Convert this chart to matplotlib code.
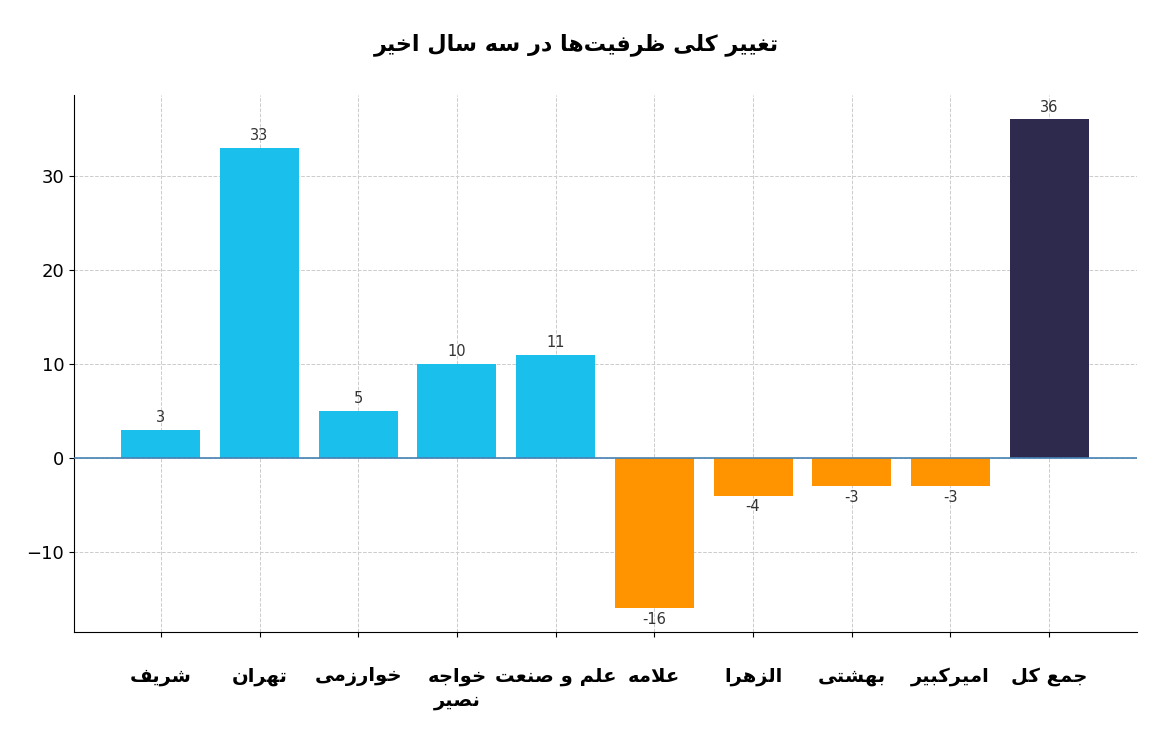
import matplotlib
matplotlib.use("Agg")
import matplotlib.pyplot as plt

categories = ["شریف", "تهران", "خوارزمی", "خواجه\nنصیر", "علم و صنعت", "علامه", "الزهرا", "بهشتی", "امیرکبیر", "جمع کل"]
values = [3, 33, 5, 10, 11, -16, -4, -3, -3, 36]
title = "تغییر کلی ظرفیت‌ها در سه سال اخیر"

# minimal Persian shaper (isol, final, init, medial)
FORMS = {
    'ا': ('\uFE8D', '\uFE8E', None, None), 'د': ('\uFEA9', '\uFEAA', None, None),
    'ر': ('\uFEAD', '\uFEAE', None, None), 'ز': ('\uFEAF', '\uFEB0', None, None),
    'و': ('\uFEED', '\uFEEE', None, None),
    'ب': ('\uFE8F', '\uFE90', '\uFE91', '\uFE92'), 'ت': ('\uFE95', '\uFE96', '\uFE97', '\uFE98'),
    'ج': ('\uFE9D', '\uFE9E', '\uFE9F', '\uFEA0'), 'ح': ('\uFEA1', '\uFEA2', '\uFEA3', '\uFEA4'),
    'خ': ('\uFEA5', '\uFEA6', '\uFEA7', '\uFEA8'), 'س': ('\uFEB1', '\uFEB2', '\uFEB3', '\uFEB4'),
    'ش': ('\uFEB5', '\uFEB6', '\uFEB7', '\uFEB8'), 'ص': ('\uFEB9', '\uFEBA', '\uFEBB', '\uFEBC'),
    'ظ': ('\uFEC5', '\uFEC6', '\uFEC7', '\uFEC8'), 'ع': ('\uFEC9', '\uFECA', '\uFECB', '\uFECC'),
    'غ': ('\uFECD', '\uFECE', '\uFECF', '\uFED0'), 'ف': ('\uFED1', '\uFED2', '\uFED3', '\uFED4'),
    'ک': ('\uFB8E', '\uFB8F', '\uFB90', '\uFB91'), 'ل': ('\uFEDD', '\uFEDE', '\uFEDF', '\uFEE0'),
    'م': ('\uFEE1', '\uFEE2', '\uFEE3', '\uFEE4'), 'ن': ('\uFEE5', '\uFEE6', '\uFEE7', '\uFEE8'),
    'ه': ('\uFEE9', '\uFEEA', '\uFEEB', '\uFEEC'), 'ی': ('\uFBFC', '\uFBFD', '\uFBFE', '\uFBFF'),
}

def shape(text):
    out_lines = []
    for line in text.split("\n"):
        chars = list(line)
        res = []
        i = 0
        n = len(chars)
        def joins_fwd(c):
            return c in FORMS and FORMS[c][2] is not None
        while i < n:
            c = chars[i]
            if c not in FORMS:
                if c != '\u200c':
                    res.append(c)
                i += 1
                continue
            prev = chars[i - 1] if i > 0 else None
            conn_prev = prev is not None and joins_fwd(prev)
            nxt = chars[i + 1] if i + 1 < n else None
            if c == 'ل' and nxt == 'ا':
                res.append('\uFEFC' if conn_prev else '\uFEFB')
                i += 2
                continue
            conn_next = nxt is not None and nxt in FORMS and joins_fwd(c)
            iso, fin, ini, med = FORMS[c]
            if conn_prev and conn_next:
                res.append(med)
            elif conn_prev:
                res.append(fin)
            elif conn_next:
                res.append(ini)
            else:
                res.append(iso)
            i += 1
        out_lines.append("".join(reversed(res)))
    return "\n".join(out_lines)

colors = []
for i, v in enumerate(values):
    if i == len(values) - 1:
        colors.append("#2E2A4E")
    elif v >= 0:
        colors.append("#1ABFEC")
    else:
        colors.append("#FF9300")

fig = plt.figure(figsize=(11.52, 7.5), dpi=100)
ax = fig.add_axes([74/1152, 1 - 632/750, (1137-74)/1152, (632-95)/750])
x = list(range(len(values)))
ax.bar(x, values, width=0.8, color=colors, zorder=2)
ax.axhline(0, color="#4682B4", linewidth=1.2, zorder=3)
ax.set_xlim(-0.88, 9.89)
ax.set_ylim(-18.5, 38.6)
ax.set_yticks([-10, 0, 10, 20, 30])
ax.set_yticklabels(["\u221210", "0", "10", "20", "30"])
ax.grid(True, linestyle="--", color="#cccccc", linewidth=0.7, zorder=0)
ax.set_axisbelow(True)
for s in ["top", "right"]:
    ax.spines[s].set_visible(False)
ax.tick_params(axis="y", labelsize=13)
ax.set_xticks(x)
ax.set_xticklabels([shape(c) for c in categories], fontsize=14, fontweight="bold",
                   family="DejaVu Sans", va="top", linespacing=1.3)
ax.tick_params(axis="x", pad=22)
for xi, v in zip(x, values):
    if v >= 0:
        ax.text(xi, v + 0.5, str(v), ha="center", va="bottom", fontsize=10.5, color="#333333")
    else:
        ax.text(xi, v - 0.4, str(v), ha="center", va="top", fontsize=10.5, color="#333333")
fig.text(576/1152, 1 - 45/750, shape(title), ha="center", va="center",
         fontsize=16, fontweight="bold", family="DejaVu Sans")
fig.savefig("out.png", dpi=100)
